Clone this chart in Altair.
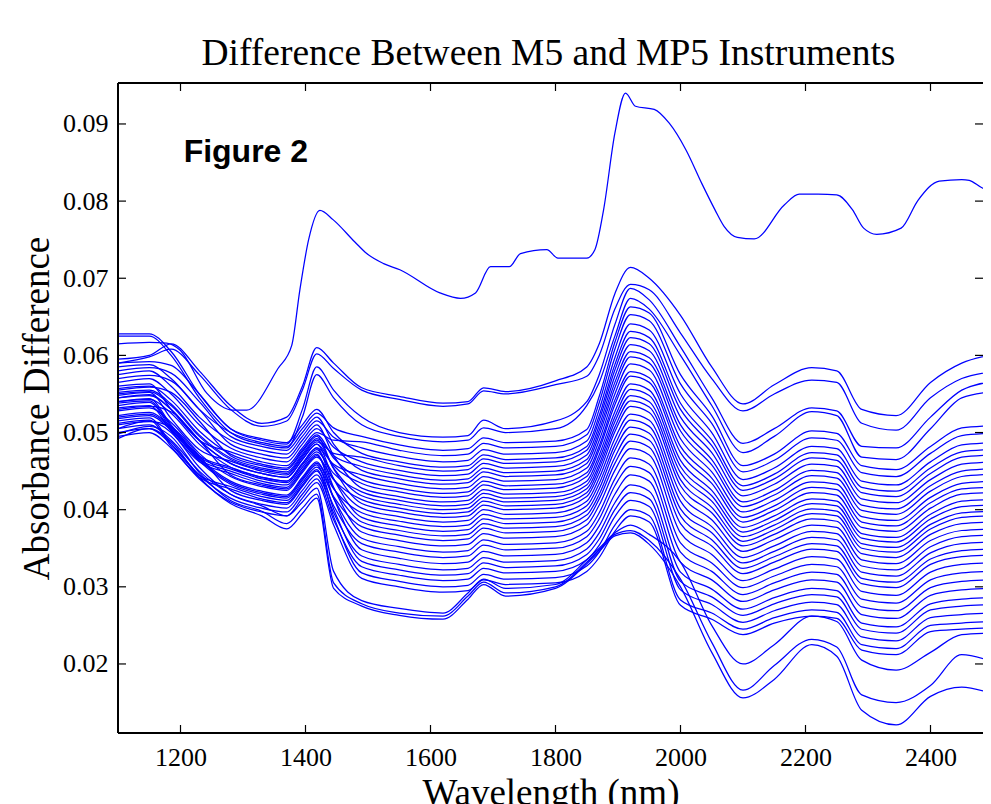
import altair as alt
import pandas as pd

# Wavelength grid (nm) shared by the spectra
WL = [1100, 1150, 1185, 1230, 1280, 1330, 1370, 1395, 1418, 1445, 1490, 1550, 1620,
      1660, 1685, 1720, 1800, 1850, 1870, 1895, 1920, 1950, 2000, 2050, 2100, 2150,
      2210, 2250, 2290, 2345, 2400, 2450, 2500]

# Absorbance differences, in units of 1e-4 absorbance
S01 = [595, 600, 615, 580, 535, 512, 520, 560, 610, 590, 558, 547, 538, 540, 558, 553, 567, 585, 615, 680, 714, 700, 652, 585, 537, 562, 584, 580, 530, 522, 565, 590, 601]
S02 = [590, 598, 608, 575, 530, 508, 515, 555, 602, 583, 555, 543, 534, 537, 554, 550, 562, 573, 600, 660, 692, 685, 629, 570, 528, 550, 568, 565, 512, 503, 545, 570, 579]
S03 = [628, 628, 605, 550, 505, 490, 485, 530, 585, 555, 520, 500, 494, 496, 516, 505, 515, 540, 575, 640, 687, 672, 611, 545, 486, 505, 532, 528, 482, 480, 520, 555, 566]
S04 = [625, 625, 600, 545, 500, 485, 480, 520, 575, 545, 510, 495, 488, 490, 506, 500, 505, 535, 565, 625, 674, 660, 600, 535, 474, 495, 527, 522, 468, 465, 505, 545, 553]
S05 = [585, 588, 570, 530, 500, 487, 482, 505, 525, 506, 495, 484, 477, 479, 493, 487, 489, 504, 547, 617, 663, 655, 575, 522, 457, 472, 502, 499, 457, 452, 482, 506, 509]
S06 = [560, 563, 530, 490, 475, 462, 457, 480, 500, 490, 488, 477, 470, 472, 486, 480, 482, 497, 539, 608, 653, 645, 563, 512, 449, 464, 493, 490, 448, 443, 473, 496, 499]
S07 = [575, 580, 560, 520, 490, 477, 472, 495, 515, 494, 480, 469, 462, 464, 478, 472, 474, 489, 530, 597, 641, 633, 550, 500, 439, 454, 482, 479, 437, 432, 462, 484, 487]
S08 = [590, 592, 587, 550, 505, 492, 487, 510, 530, 500, 473, 462, 455, 457, 471, 465, 467, 482, 522, 588, 631, 623, 538, 490, 431, 446, 474, 471, 429, 424, 454, 475, 478]
S09 = [548, 552, 518, 478, 463, 450, 445, 468, 488, 473, 468, 457, 450, 452, 466, 460, 462, 477, 516, 581, 623, 615, 530, 483, 425, 440, 467, 464, 422, 417, 447, 468, 471]
S10 = [565, 570, 550, 510, 480, 467, 462, 485, 505, 481, 462, 451, 444, 446, 460, 454, 456, 471, 509, 573, 614, 606, 520, 474, 418, 433, 459, 456, 414, 409, 439, 459, 462]
S11 = [552, 555, 537, 497, 467, 454, 449, 472, 492, 470, 456, 445, 438, 440, 454, 448, 450, 465, 503, 565, 605, 597, 510, 465, 410, 425, 451, 448, 406, 401, 431, 450, 453]
S12 = [580, 584, 577, 540, 495, 482, 477, 500, 520, 485, 451, 440, 433, 435, 449, 443, 445, 460, 497, 558, 598, 590, 502, 458, 404, 419, 444, 441, 399, 394, 424, 443, 446]
S13 = [540, 544, 510, 470, 455, 442, 437, 460, 480, 459, 445, 434, 427, 429, 443, 437, 439, 454, 490, 550, 589, 581, 492, 449, 397, 412, 436, 433, 391, 386, 416, 434, 437]
S14 = [557, 560, 542, 502, 472, 459, 454, 477, 497, 467, 439, 428, 421, 423, 437, 431, 433, 448, 483, 542, 579, 571, 482, 441, 390, 405, 429, 426, 384, 379, 409, 427, 429]
S15 = [545, 549, 530, 490, 460, 447, 442, 465, 485, 457, 434, 423, 416, 418, 432, 426, 428, 443, 478, 536, 573, 565, 474, 434, 384, 399, 422, 419, 377, 372, 402, 420, 422]
S16 = [570, 574, 567, 530, 485, 472, 467, 490, 510, 470, 428, 417, 410, 412, 426, 420, 422, 437, 471, 527, 563, 555, 464, 425, 377, 392, 414, 411, 369, 364, 394, 411, 413]
S17 = [535, 539, 505, 465, 450, 437, 432, 455, 475, 447, 423, 412, 405, 407, 421, 415, 417, 432, 465, 520, 556, 548, 456, 418, 371, 386, 408, 405, 363, 358, 388, 404, 406]
S18 = [550, 553, 535, 495, 465, 452, 447, 470, 490, 454, 418, 407, 400, 402, 416, 410, 412, 427, 459, 514, 548, 540, 448, 411, 365, 380, 401, 398, 356, 351, 381, 396, 398]
S19 = [528, 532, 513, 473, 443, 430, 425, 448, 468, 439, 413, 402, 395, 397, 411, 405, 407, 422, 454, 507, 541, 533, 439, 403, 359, 374, 395, 392, 350, 345, 375, 390, 392]
S20 = [555, 559, 552, 515, 470, 457, 452, 475, 495, 453, 408, 397, 390, 392, 406, 400, 402, 417, 448, 501, 534, 526, 431, 396, 353, 368, 388, 385, 343, 338, 368, 382, 384]
S21 = [538, 541, 508, 468, 453, 440, 435, 458, 478, 440, 402, 391, 384, 386, 400, 394, 396, 411, 441, 492, 524, 516, 421, 387, 346, 361, 380, 377, 335, 330, 360, 373, 375]
S22 = [520, 524, 505, 465, 435, 422, 417, 440, 460, 427, 396, 385, 378, 380, 394, 388, 390, 405, 434, 484, 516, 508, 411, 378, 338, 353, 372, 369, 327, 322, 352, 365, 367]
S23 = [545, 548, 530, 490, 460, 447, 442, 465, 485, 440, 390, 379, 372, 374, 388, 382, 384, 399, 427, 477, 507, 499, 401, 370, 331, 346, 364, 361, 319, 314, 344, 356, 358]
S24 = [530, 534, 527, 490, 445, 432, 427, 450, 470, 428, 384, 373, 366, 368, 382, 376, 378, 393, 420, 468, 498, 490, 392, 361, 324, 339, 356, 353, 311, 306, 336, 347, 349]
S25 = [515, 519, 485, 445, 430, 417, 412, 435, 455, 417, 378, 367, 360, 362, 376, 370, 372, 387, 414, 460, 489, 481, 382, 353, 317, 332, 349, 346, 304, 299, 329, 339, 341]
S26 = [540, 543, 525, 485, 455, 442, 437, 460, 480, 429, 371, 360, 353, 355, 369, 363, 365, 380, 406, 451, 479, 471, 370, 342, 308, 323, 339, 336, 294, 289, 319, 329, 331]
S27 = [522, 526, 507, 467, 437, 424, 419, 442, 462, 415, 363, 352, 345, 347, 361, 355, 357, 372, 396, 440, 467, 459, 357, 331, 299, 314, 329, 326, 284, 279, 309, 318, 320]
S28 = [510, 514, 507, 470, 425, 412, 407, 430, 450, 405, 356, 345, 338, 340, 354, 348, 350, 365, 388, 431, 456, 448, 345, 320, 290, 305, 319, 316, 274, 269, 299, 307, 309]
S29 = [532, 535, 502, 462, 447, 434, 429, 452, 472, 415, 348, 337, 330, 332, 346, 340, 342, 357, 379, 420, 445, 437, 332, 309, 281, 296, 309, 306, 264, 259, 289, 296, 298]
S30 = [505, 510, 490, 450, 420, 407, 402, 425, 445, 396, 340, 329, 322, 324, 338, 332, 334, 349, 370, 409, 432, 424, 319, 297, 271, 286, 298, 295, 253, 248, 278, 284, 286]
S31 = [518, 522, 503, 463, 433, 420, 415, 438, 458, 401, 333, 322, 315, 317, 331, 325, 327, 342, 362, 400, 422, 414, 307, 287, 263, 278, 290, 287, 245, 240, 270, 275, 277]
S32 = [500, 505, 485, 445, 415, 402, 397, 420, 440, 387, 326, 315, 308, 310, 324, 318, 320, 335, 354, 391, 412, 404, 296, 277, 254, 269, 280, 277, 235, 230, 260, 264, 266]
S33 = [512, 516, 482, 442, 427, 414, 409, 432, 452, 391, 318, 307, 300, 302, 316, 310, 312, 327, 345, 380, 400, 392, 283, 266, 245, 260, 270, 267, 225, 220, 250, 253, 255]
S34 = [495, 500, 480, 440, 410, 397, 392, 415, 435, 380, 311, 300, 293, 295, 309, 303, 305, 320, 338, 372, 392, 384, 276, 258, 238, 253, 262, 259, 218, 212, 242, 245, 247]
S35 = [505, 515, 500, 455, 420, 405, 392, 410, 428, 320, 282, 272, 266, 292, 310, 298, 303, 335, 350, 370, 380, 368, 332, 250, 200, 225, 262, 255, 205, 192, 215, 238, 240]
S36 = [498, 508, 495, 448, 412, 398, 382, 402, 420, 305, 278, 266, 262, 288, 306, 292, 300, 332, 348, 368, 373, 360, 310, 228, 166, 198, 232, 222, 160, 150, 172, 212, 203]
S37 = [492, 505, 488, 442, 408, 392, 375, 395, 415, 298, 275, 263, 258, 284, 303, 288, 298, 330, 346, 366, 370, 355, 300, 215, 156, 180, 225, 210, 140, 121, 158, 170, 161]

SERIES = [S01, S02, S03, S04, S05, S06, S07, S08, S09, S10, S11, S12, S13, S14, S15,
          S16, S17, S18, S19, S20, S21, S22, S23, S24, S25, S26, S27, S28, S29, S30,
          S31, S32, S33, S34, S35, S36, S37]

# The single outlying spectrum, sampled on its own wavelengths
OUT_WL = [1100, 1150, 1178, 1199, 1242, 1284, 1306, 1356, 1378, 1391, 1405, 1423, 1444,
          1479, 1498, 1525, 1551, 1615, 1648, 1672, 1696, 1726, 1744, 1786, 1804, 1850,
          1863, 1877, 1895, 1912, 1928, 1958, 1982, 2009, 2034, 2055, 2070, 2091, 2118,
          2166, 2190, 2220, 2250, 2275, 2293, 2314, 2353, 2380, 2414, 2450, 2462, 2483, 2500]
OUT_VAL = [615, 617, 616, 607, 551, 529, 529, 583, 613, 685, 750, 788, 776,
           747, 732, 719, 711, 681, 674, 681, 715, 715, 732, 737, 726, 726,
           737, 789, 888, 940, 923, 919, 901, 866, 823, 789, 767, 753, 751,
           795, 809, 809, 808, 789, 765, 757, 765, 801, 826, 828, 827, 817, 814]

UNIT = 1e-4

X_TICKS = [1200, 1400, 1600, 1800, 2000, 2200, 2400]
Y_TICKS = [0.02, 0.03, 0.04, 0.05, 0.06, 0.07, 0.08, 0.09]

TITLE = "Difference Between M5 and MP5 Instruments"
X_TITLE = "Wavelength (nm)"
Y_TITLE = "Absorbance Difference"
FIG_LABEL = "Figure 2"
FIG_WL = 1205
FIG_ABS = 0.0851

rows = []
for i, s in enumerate(SERIES):
    for w, v in zip(WL, s):
        rows.append({"wl": w, "absorb": v * UNIT, "sample": f"s{i:02d}"})
for w, v in zip(OUT_WL, OUT_VAL):
    rows.append({"wl": w, "absorb": v * UNIT, "sample": "outlier"})
df = pd.DataFrame(rows)

# plot area keeps 0.625 px per nm; the page width cuts it just before 2500 nm
W, H = 865, 650
TICK = 8
SERIF = "Liberation Serif"

xscale = alt.Scale(domain=[1100, 2484], nice=False, zero=False)
yscale = alt.Scale(domain=[0.01105, 0.09531], nice=False, zero=False)

lines = alt.Chart(df).mark_line(
    color="#0000ff", strokeWidth=1.25, interpolate="monotone", clip=True
).encode(
    x=alt.X("wl:Q", scale=xscale, axis=alt.Axis(
        title=X_TITLE, values=X_TICKS, format="d", ticks=False, tickSize=0,
        domain=False, grid=False, labelPadding=11, titlePadding=5,
        labelFont=SERIF, labelFontSize=26, labelColor="black",
        titleFont=SERIF, titleFontSize=37, titleFontWeight="normal", titleColor="black")),
    y=alt.Y("absorb:Q", scale=yscale, axis=alt.Axis(
        title=Y_TITLE, values=Y_TICKS, format=".2f", ticks=False, tickSize=0,
        domain=False, grid=False, labelPadding=10, titlePadding=6,
        labelFont=SERIF, labelFontSize=26, labelColor="black",
        titleFont=SERIF, titleFontSize=37, titleFontWeight="normal", titleColor="black")),
    detail="sample:N",
    order=alt.Order("wl:Q"),
)

xt = pd.DataFrame({"wl": X_TICKS})
yt = pd.DataFrame({"absorb": Y_TICKS})
rule_style = dict(color="black", strokeWidth=1.2)

bottom_ticks = alt.Chart(xt).mark_rule(**rule_style).encode(
    x=alt.X("wl:Q", scale=xscale), y=alt.value(H - TICK), y2=alt.value(H))
top_ticks = alt.Chart(xt).mark_rule(**rule_style).encode(
    x=alt.X("wl:Q", scale=xscale), y=alt.value(0), y2=alt.value(TICK))
left_ticks = alt.Chart(yt).mark_rule(**rule_style).encode(
    y=alt.Y("absorb:Q", scale=yscale), x=alt.value(0), x2=alt.value(TICK))
right_ticks = alt.Chart(yt).mark_rule(**rule_style).encode(
    y=alt.Y("absorb:Q", scale=yscale), x=alt.value(W - TICK), x2=alt.value(W))

# frame: left, top and bottom edges (the right edge lies beyond the page)
frame_style = dict(color="black", strokeWidth=1.5)
frame_left = alt.Chart(xt).mark_rule(**frame_style).encode(
    x=alt.value(0), y=alt.value(0), y2=alt.value(H))
frame_top = alt.Chart(xt).mark_rule(**frame_style).encode(
    x=alt.value(0), x2=alt.value(W), y=alt.value(0))
frame_bottom = alt.Chart(xt).mark_rule(**frame_style).encode(
    x=alt.value(0), x2=alt.value(W), y=alt.value(H))

label = alt.Chart(pd.DataFrame({"label": [FIG_LABEL], "wl": [FIG_WL], "absorb": [FIG_ABS]})).mark_text(
    align="left", baseline="alphabetic", font="Liberation Sans", fontWeight="bold",
    fontSize=32, color="black"
).encode(
    x=alt.X("wl:Q", scale=xscale),
    y=alt.Y("absorb:Q", scale=yscale),
    text="label:N",
)

chart = alt.layer(lines, bottom_ticks, top_ticks, left_ticks, right_ticks,
                  frame_left, frame_top, frame_bottom, label).properties(
    width=W, height=H,
    title=alt.TitleParams(text=TITLE, font=SERIF, fontSize=37.5, fontWeight="normal",
                          color="black", anchor="middle", baseline="alphabetic",
                          offset=19, dx=-2, dy=39),
    autosize=alt.AutoSizeParams(type="none"),
    padding={"left": 110, "top": 75, "right": 0, "bottom": 90},
).configure_view(stroke=None)

chart.save("out.html", embed_options={"renderer": "svg", "actions": False})
